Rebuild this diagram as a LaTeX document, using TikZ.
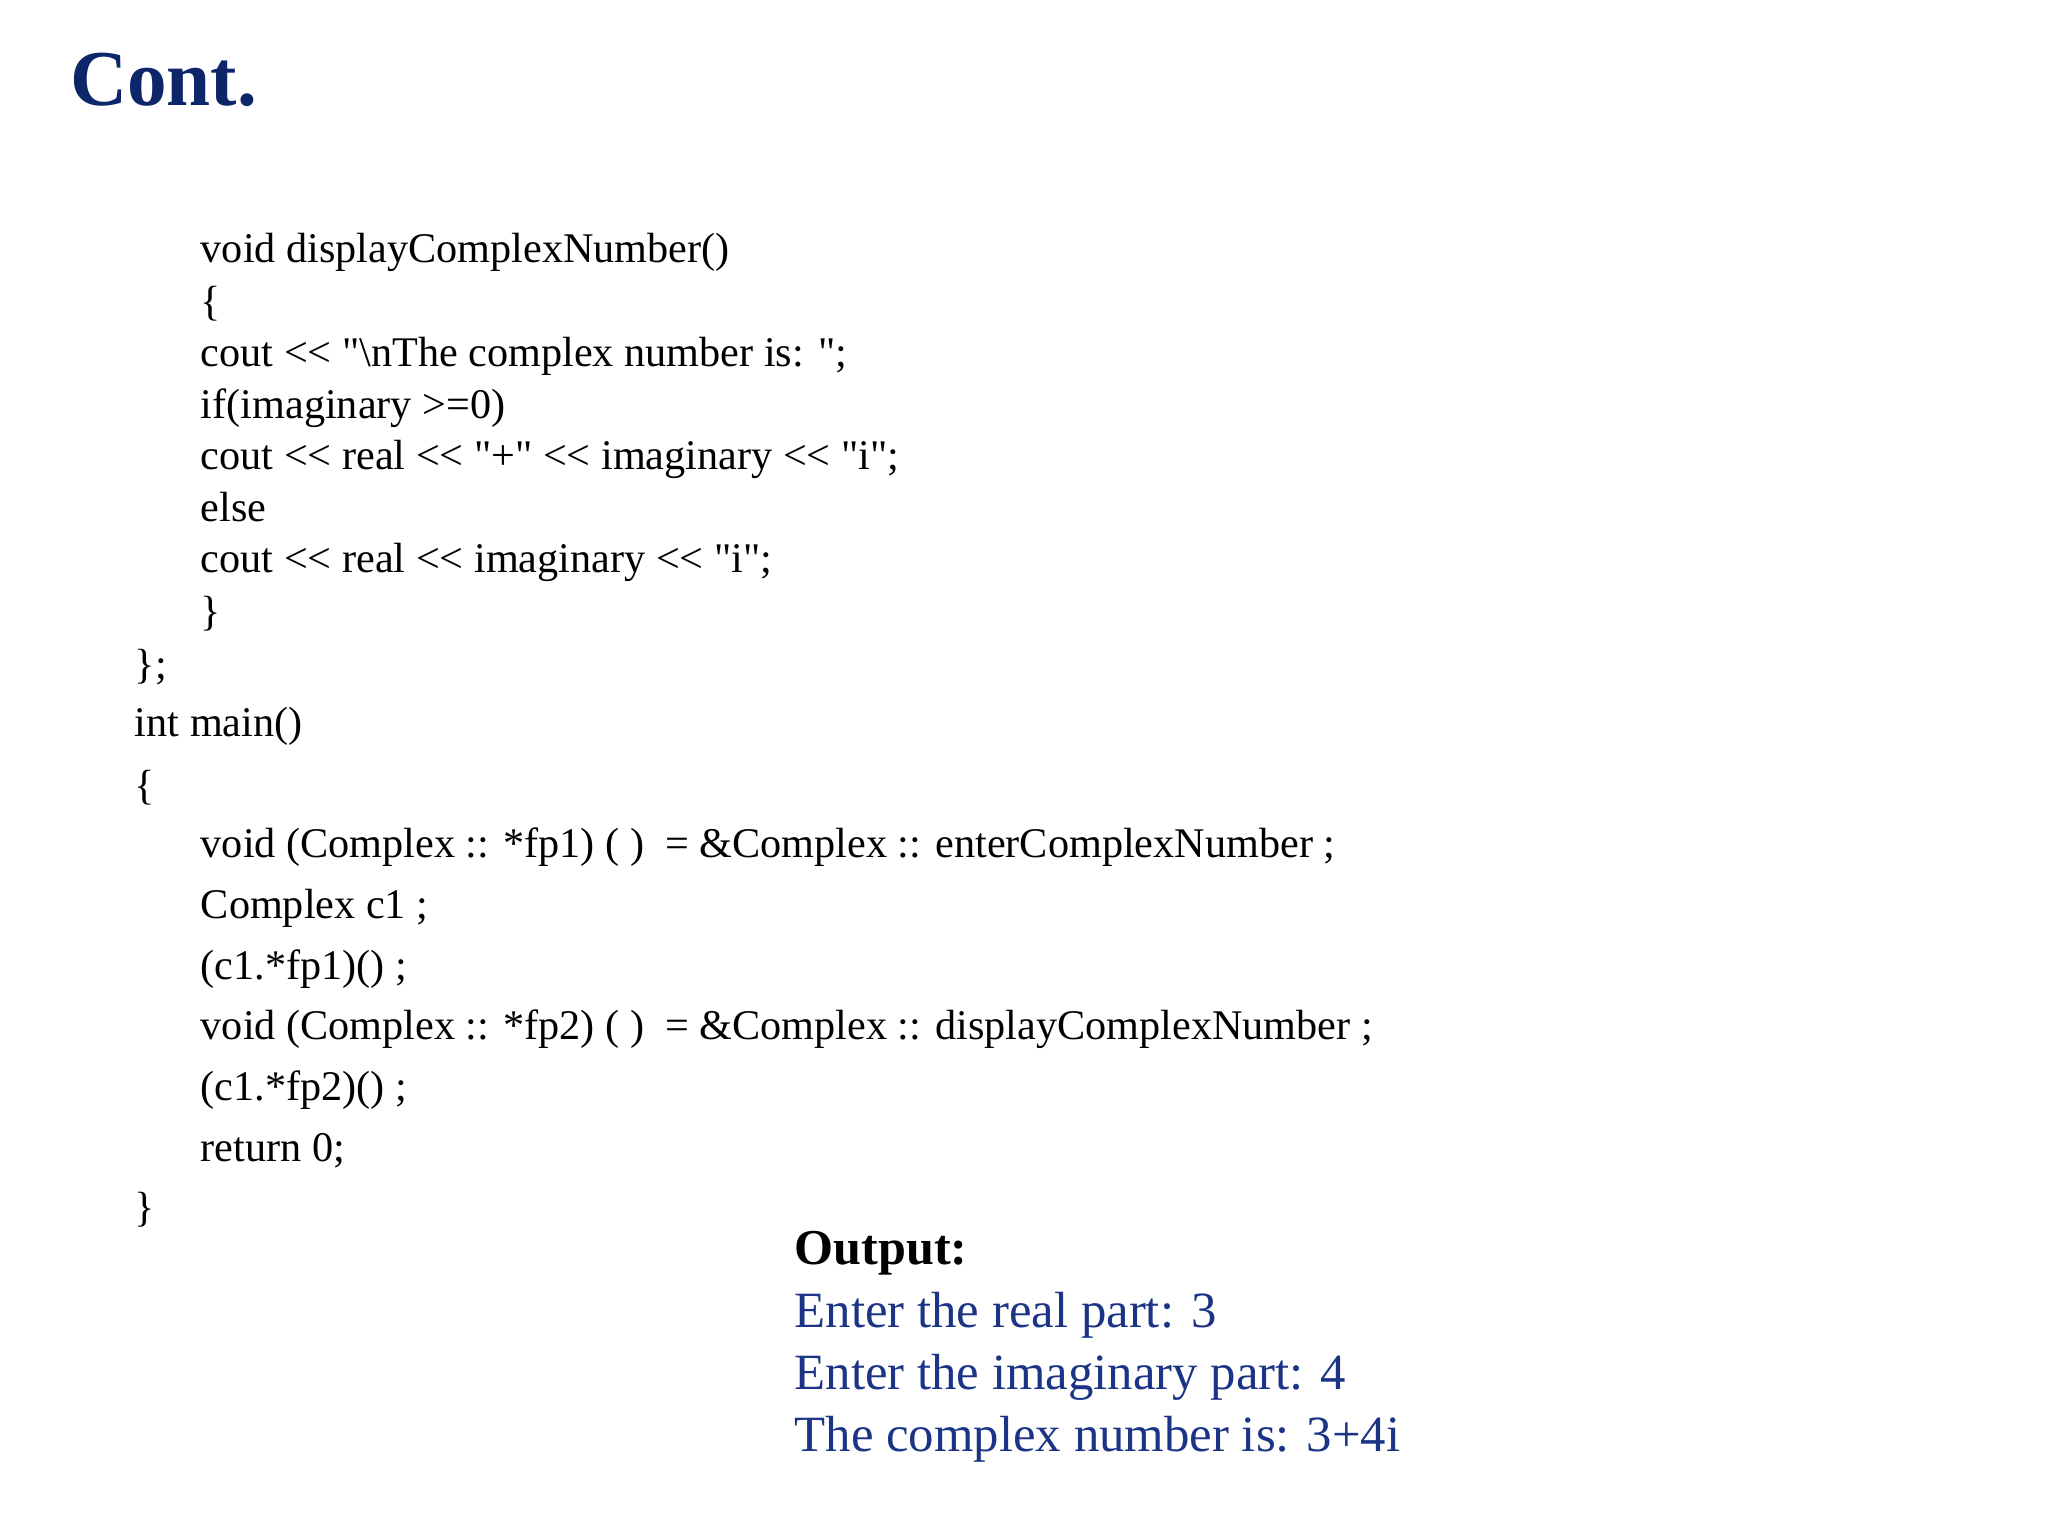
\documentclass[tikz,border=0pt]{standalone}
\usepackage{fontspec}
\setmainfont{Liberation Serif}[Ligatures=TeXOff]
\definecolor{titleblue}{HTML}{0D2669}
\definecolor{outblue}{HTML}{1C3486}
\begin{document}
\begin{tikzpicture}[x=1pt,y=-1pt,
  code/.style={anchor=base west,inner sep=0pt,font=\fontsize{32}{32}\selectfont},
  outl/.style={anchor=base west,inner sep=0pt,font=\fontsize{38.5}{38.5}\selectfont,text=outblue}]
\useasboundingbox (0,0) rectangle (1552,1164);
\node[anchor=base west,inner sep=0pt,font=\fontsize{60}{60}\selectfont\bfseries,text=titleblue] (title) at (53,80) {Cont.};
\node[code] (l1) at (152,199) {void displayComplexNumber()};
\node[code] (l2) at (152,239) {\{};
\node[code] (l3) at (152,278) {cout << "\textbackslash nThe complex number is: ";};
\node[code] (l4) at (152,317) {if(imaginary >=0)};
\node[code] (l5) at (152,356) {cout << real << "+" << imaginary << "i";};
\node[code] (l6) at (152,395) {else};
\node[code] (l7) at (152,434) {cout << real << imaginary << "i";};
\node[code] (l8) at (152,474) {\}};
\node[code] (l9) at (102,514) {\};};
\node[code] (l10) at (102,558) {int main()};
\node[code] (l11) at (102,606) {\{};
\node[code] (l12) at (152,650) {void (Complex :: *fp1) ( )\ \ = \&Complex :: enterComplexNumber ;};
\node[code] (l13) at (152,696) {Complex c1 ;};
\node[code] (l14) at (152,742) {(c1.*fp1)() ;};
\node[code] (l15) at (152,788) {void (Complex :: *fp2) ( )\ \ = \&Complex :: displayComplexNumber ;};
\node[code] (l16) at (152,834) {(c1.*fp2)() ;};
\node[code] (l17) at (152,880) {return 0;};
\node[code] (l18) at (102,926) {\}};
\node[anchor=base west,inner sep=0pt,font=\fontsize{38}{38}\selectfont\bfseries] (o0) at (602,958) {Output:};
\node[outl] (o1) at (602,1006) {Enter the real part: 3};
\node[outl] (o2) at (602,1053) {Enter the imaginary part: 4};
\node[outl] (o3) at (602,1100) {The complex number is: 3+4i};
\end{tikzpicture}
\end{document}
